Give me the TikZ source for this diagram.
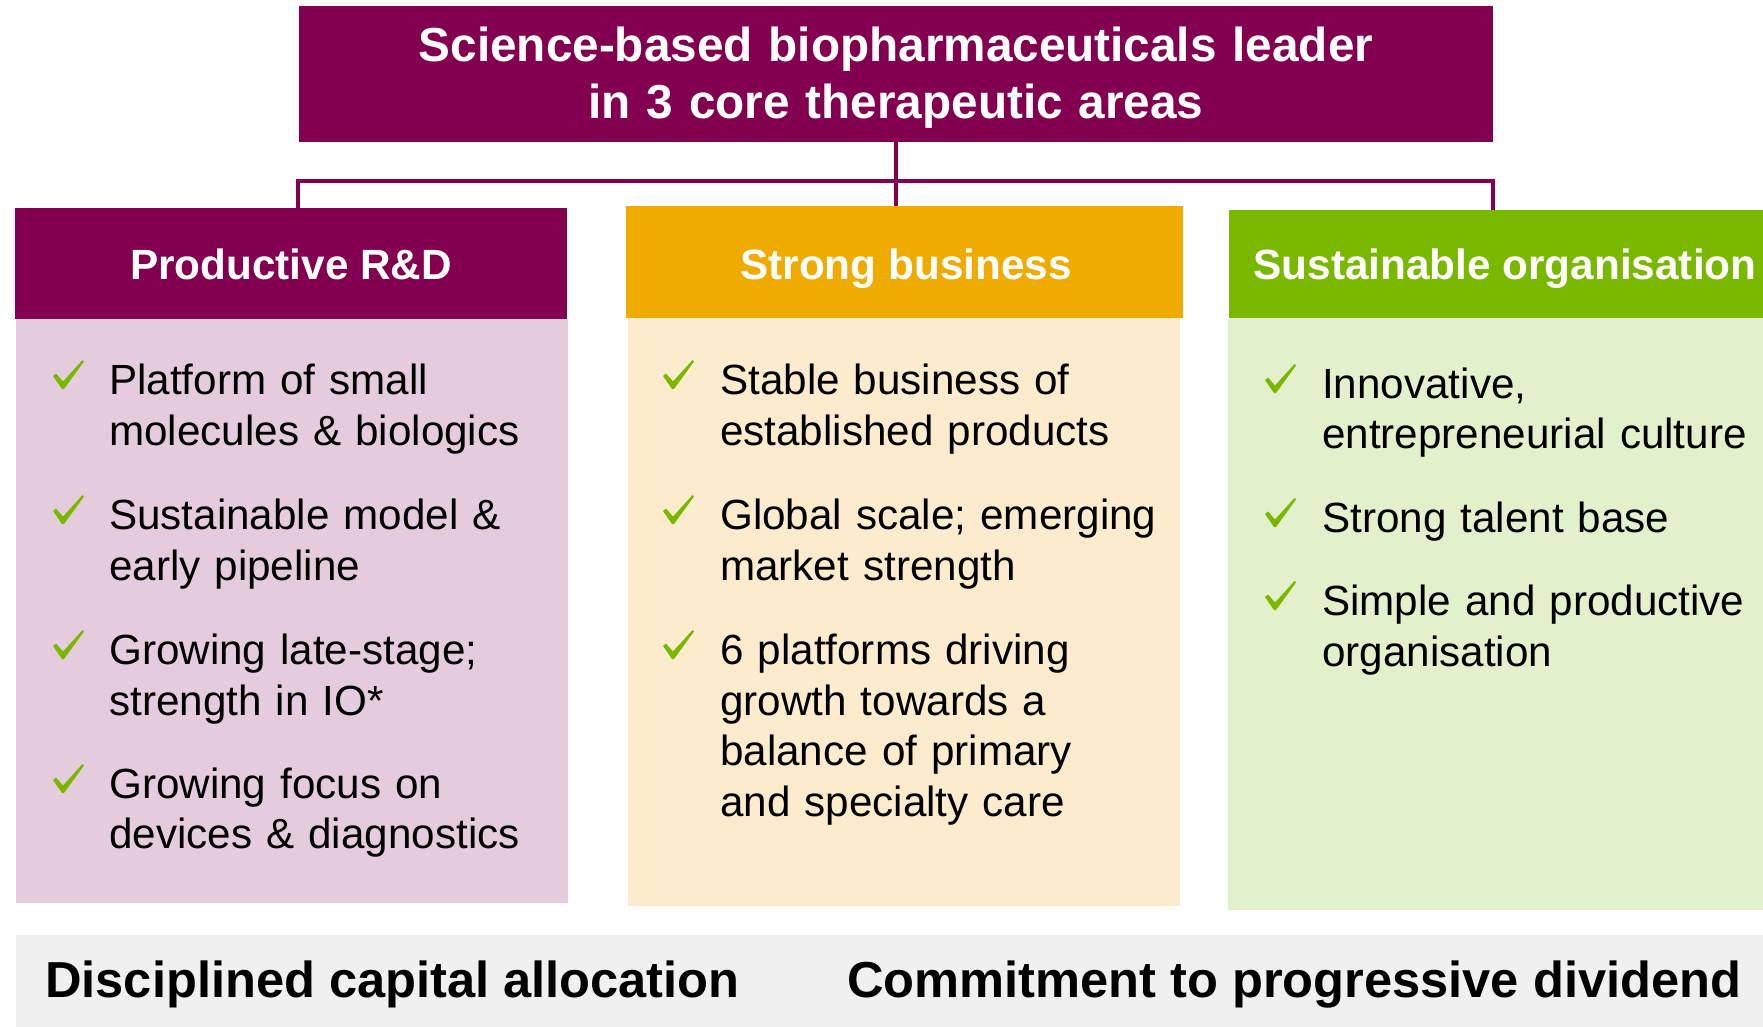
\documentclass[tikz,border=0pt]{standalone}
\usepackage{fontspec}
\setmainfont{Liberation Sans}
\definecolor{azpurple}{HTML}{830051}
\definecolor{azpink}{HTML}{E5CCDC}
\definecolor{azgold}{HTML}{F0AB00}
\definecolor{azcream}{HTML}{FCEBCC}
\definecolor{azgreen}{HTML}{7AB800}
\definecolor{azlightgreen}{HTML}{E3F0CC}
\definecolor{azgrey}{HTML}{F0F0F0}
\newcommand{\azchk}[2]{\fill[chk, shift={(#1,#2)}] (0,16) -- (3,13.5) -- (10,21.5) -- (29.5,0) -- (31,1.5) -- (11,29) -- (9,29) -- cycle;}
\begin{document}
\begin{tikzpicture}[x=1pt,y=-1pt,
  panel/.style={rectangle, inner sep=0pt, outer sep=0pt, draw=none, anchor=north west},
  titletext/.style={anchor=base, inner sep=0pt, text=white, text width=1150pt, align=center, font=\fontsize{47.7}{57.5}\selectfont\bfseries},
  hdrtext/.style={anchor=base, inner sep=0pt, text=white, font=\fontsize{42.3}{50}\selectfont\bfseries},
  itemtext/.style={anchor=base west, inner sep=0pt, text=black, text width=520pt, align=left, font=\fontsize{42.2}{50.6}\selectfont},
  foottext/.style={anchor=base west, inner sep=0pt, text=black, font=\fontsize{50.6}{56}\selectfont\bfseries},
  link/.style={draw=azpurple, line width=3.4pt},
  chk/.style={fill=azgreen}]
\useasboundingbox (0,0) rectangle (1763,1026);
% boxes
\node[panel, fill=azpurple, minimum width=1194pt, minimum height=136pt] (top) at (299,6) {};
\node[panel, fill=azpink, minimum width=552pt, minimum height=584pt] (b1) at (16,319) {};
\node[panel, fill=azpurple, minimum width=552pt, minimum height=111pt] (h1) at (15,208) {};
\node[panel, fill=azcream, minimum width=552pt, minimum height=588pt] (b2) at (628,318) {};
\node[panel, fill=azgold, minimum width=557pt, minimum height=112pt] (h2) at (626,206) {};
\node[panel, fill=azlightgreen, minimum width=540pt, minimum height=592pt] (b3) at (1228,318) {};
\node[panel, fill=azgreen, minimum width=540pt, minimum height=108pt] (h3) at (1229,210) {};
\node[panel, fill=azgrey, minimum width=1750pt, minimum height=92pt] (foot) at (16,935) {};
% connectors
\coordinate (busL) at (298,181);
\coordinate (busR) at (1493,181);
\draw[link] (top.south) -- (top.south |- h2.north);
\draw[link] (h1.north -| busL) -- (busL) -- (busR) -- (h3.north -| busR);
% title and headers
\node[titletext] (title) at (896,61) {Science-based biopharmaceuticals leader\\in 3 core therapeutic areas};
\node[hdrtext] (t1) at (291,279.5) {Productive R\&D};
\node[hdrtext] (t2) at (906,279.5) {Strong business};
\node[hdrtext] (t3) at (1505,279.5) {Sustainable organisation};
% column 1
\azchk{53}{360}
\node[itemtext] (a1) at (109,394.7) {Platform of small\\molecules \& biologics};
\azchk{53}{495}
\node[itemtext] (a2) at (109,529.6) {Sustainable model \&\\early pipeline};
\azchk{53}{630}
\node[itemtext] (a3) at (109,664.5) {Growing late-stage;\\strength in IO*};
\azchk{53}{764}
\node[itemtext] (a4) at (109,798.3) {Growing focus on\\devices \& diagnostics};
% column 2
\azchk{663}{360}
\node[itemtext] (c1) at (720,394.7) {Stable business of\\established products};
\azchk{663}{495}
\node[itemtext] (c2) at (720,529.6) {Global scale; emerging\\market strength};
\azchk{663}{630}
\node[itemtext] (c3) at (720,664.5) {6 platforms driving\\growth towards a\\balance of primary\\and specialty care};
% column 3
\azchk{1265}{364}
\node[itemtext] (d1) at (1322,398) {Innovative,\\entrepreneurial culture};
\azchk{1265}{498}
\node[itemtext] (d2) at (1322,532.5) {Strong talent base};
\azchk{1265}{581}
\node[itemtext] (d3) at (1322,615.5) {Simple and productive\\organisation};
% footer
\node[foottext] (f1) at (45,997) {Disciplined capital allocation};
\node[foottext] (f2) at (847,997) {Commitment to progressive dividend};
\end{tikzpicture}
\end{document}
